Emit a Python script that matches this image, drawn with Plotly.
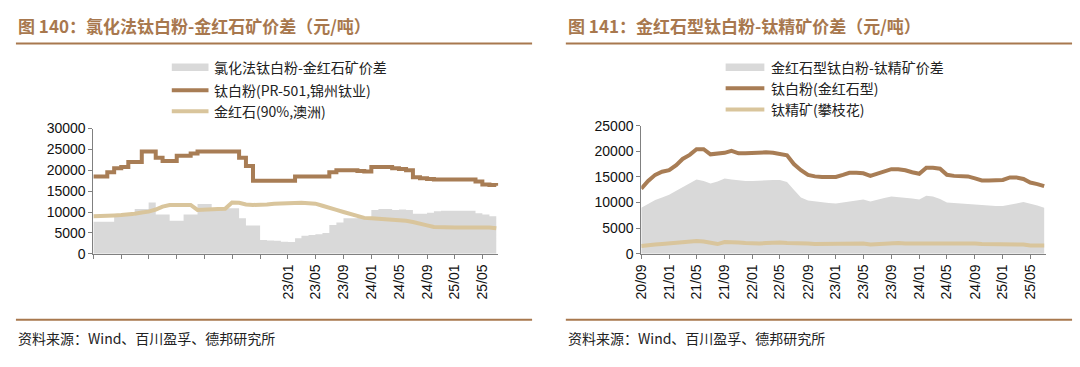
import pandas as pd
import plotly.graph_objects as go

W, H = 1080, 367

# ---- data (monthly, 2020-09 .. 2025-07), values in 元/吨 ----
months = [d.strftime("%Y-%m-%d") for d in pd.date_range("2020-09-01", periods=59, freq="MS")]

# Left chart: 氯化法钛白粉-金红石矿价差
left_tio2 = [18500, 18500, 19500, 20500, 20800, 22000, 22000, 24500, 24500, 23000,
             22200, 22200, 23500, 23500, 24000, 24500, 24500, 24500, 24500, 24500,
             24500, 23000, 21000, 17500, 17500, 17500, 17500, 17500, 17500, 18500,
             18500, 18500, 18500, 18500, 19500, 20000, 20000, 20000, 19800, 19700,
             20800, 20800, 20800, 20500, 20300, 20000, 18300, 18100, 17900, 17800,
             17800, 17800, 17800, 17800, 17800, 17300, 16600, 16500, 16300]
left_rutile = [9000, 9000, 9100, 9200, 9300, 9400, 9600, 9900, 10100, 10600,
               11300, 11700, 11700, 11700, 11700, 10500, 10500, 10600, 10700, 10800,
               12300, 12200, 11800, 11700, 11700, 11800, 12000, 12100, 12100, 12200,
               12200, 12100, 12000, 11500, 10900, 10500, 10000, 9500, 8900, 8600,
               8500, 8400, 8400, 8300, 8100, 7900, 7600, 7300, 6800, 6400,
               6300, 6300, 6300, 6300, 6300, 6400, 6500, 6300, 6100]
left_spread = [7700, 7700, 7700, 9200, 9200, 9200, 10700, 10700, 12300, 9400,
               9400, 7900, 7900, 9400, 9400, 11900, 11900, 10900, 10900, 10900,
               10900, 8500, 6800, 6800, 3300, 3200, 3100, 2900, 2800, 3700,
               4300, 4500, 4700, 5000, 6900, 7500, 8500, 8500, 8600, 8800,
               10500, 10700, 10700, 10500, 10600, 10500, 9600, 9600, 9800, 10200,
               10300, 10300, 10300, 10300, 10300, 9700, 9400, 9000, 9000]

# Right chart: 金红石型钛白粉-钛精矿价差
right_tio2 = [12700, 14200, 15400, 16000, 16300, 17300, 18500, 19300, 20400, 20400,
              19400, 19500, 19700, 20100, 19600, 19600, 19700, 19800, 19800, 19700,
              19500, 19200, 17500, 16300, 15400, 15100, 15000, 15000, 15000, 15400,
              15800, 15800, 15700, 15200, 15600, 15900, 16500, 16500, 16300, 15900,
              15600, 16800, 16800, 16600, 15400, 15200, 15200, 15100, 14700, 14300,
              14300, 14300, 14400, 14900, 14900, 14600, 13900, 13600, 13200]
right_ilmenite = [1500, 1700, 1800, 1900, 2000, 2100, 2200, 2350, 2500, 2400,
                  2200, 1900, 2300, 2300, 2200, 2100, 2000, 2000, 2100, 2200,
                  2200, 2100, 2100, 2000, 2000, 1900, 1900, 1900, 1900, 2000,
                  2000, 2000, 2000, 1800, 1900, 2000, 2100, 2100, 2000, 2000,
                  2100, 2100, 2100, 2100, 2000, 2000, 2000, 2000, 2000, 1900,
                  1900, 1900, 1900, 1900, 1900, 1800, 1600, 1600, 1600]
right_spread = [9000, 9800, 10500, 11000, 11500, 12300, 13000, 13800, 14500, 14200,
                13700, 14100, 14700, 14500, 14300, 14200, 14200, 14300, 14300, 14400,
                14400, 14000, 12500, 11000, 10400, 10200, 10000, 9900, 9800, 10000,
                10200, 10400, 10600, 10200, 10600, 10900, 11200, 11100, 11000, 10800,
                10600, 11300, 11200, 10700, 10000, 9900, 9800, 9700, 9500, 9400,
                9300, 9300, 9300, 9500, 9800, 10100, 9800, 9400, 9000]

tick_vals = ["2020-09-01", "2021-01-01", "2021-05-01", "2021-09-01", "2022-01-01",
             "2022-05-01", "2022-09-01", "2023-01-01", "2023-05-01", "2023-09-01",
             "2024-01-01", "2024-05-01", "2024-09-01", "2025-01-01", "2025-05-01"]
tick_text = ["20/09", "21/01", "21/05", "21/09", "22/01", "22/05", "22/09", "23/01",
             "23/05", "23/09", "24/01", "24/05", "24/09", "25/01", "25/05"]
left_tick_text = [t if i >= 7 else "" for i, t in enumerate(tick_text)]

titles = ["图 140：氯化法钛白粉-金红石矿价差（元/吨）", "图 141：金红石型钛白粉-钛精矿价差（元/吨）"]
left_names = ["氯化法钛白粉-金红石矿价差", "钛白粉(PR-501,锦州钛业)", "金红石(90%,澳洲)"]
right_names = ["金红石型钛白粉-钛精矿价差", "钛白粉(金红石型)", "钛精矿(攀枝花)"]
source = "资料来源：Wind、百川盈孚、德邦研究所"

# ---- style ----
C_BROWN = "#A87D55"
C_TAN = "#D9C59C"
C_GRAY = "#D9D9D9"
C_TITLE = "#A8784E"
FONT = "Liberation Sans, Arial, Noto Sans CJK SC"
CJK = "Noto Sans CJK SC"

def px(x):
    return x / W

def py(y):
    return 1 - y / H

fig = go.Figure()

# left chart traces
fig.add_trace(go.Scatter(x=months, y=left_spread, fill="tozeroy", mode="lines",
                         line=dict(width=0, shape="hv"), fillcolor=C_GRAY,
                         xaxis="x", yaxis="y", showlegend=False))
fig.add_trace(go.Scatter(x=months, y=left_rutile, mode="lines",
                         line=dict(color=C_TAN, width=4), xaxis="x", yaxis="y", showlegend=False))
fig.add_trace(go.Scatter(x=months, y=left_tio2, mode="lines",
                         line=dict(color=C_BROWN, width=4, shape="hv"), xaxis="x", yaxis="y",
                         showlegend=False))

# right chart traces
fig.add_trace(go.Scatter(x=months, y=right_spread, fill="tozeroy", mode="lines",
                         line=dict(width=0), fillcolor=C_GRAY,
                         xaxis="x2", yaxis="y2", showlegend=False))
fig.add_trace(go.Scatter(x=months, y=right_ilmenite, mode="lines",
                         line=dict(color=C_TAN, width=4), xaxis="x2", yaxis="y2", showlegend=False))
fig.add_trace(go.Scatter(x=months, y=right_tio2, mode="lines",
                         line=dict(color=C_BROWN, width=4), xaxis="x2", yaxis="y2", showlegend=False))

xaxis_common = dict(type="date", range=["2020-09-01", "2025-07-10"], tickvals=tick_vals,
                    tickangle=-90, showline=True, linecolor="#808080", linewidth=1,
                    ticks="outside", ticklen=4, tickcolor="#808080", showgrid=False,
                    zeroline=False, tickfont=dict(family=FONT, size=14, color="#111"))
yaxis_common = dict(showline=True, linecolor="#808080", linewidth=1, ticks="outside",
                    ticklen=4, tickcolor="#808080", showgrid=False, zeroline=False,
                    tickformat="d", tickfont=dict(family=FONT, size=14, color="#111"))

fig.update_layout(
    width=W, height=H, margin=dict(l=0, r=0, t=0, b=0),
    paper_bgcolor="white", plot_bgcolor="white", hovermode=False,
    xaxis=dict(domain=[px(86), px(494)], ticktext=left_tick_text, anchor="y", **xaxis_common),
    yaxis=dict(domain=[py(257), py(126)], range=[0, 30000], dtick=5000, anchor="x",
               **yaxis_common),
    xaxis2=dict(domain=[px(638), px(1046)], ticktext=tick_text, anchor="y2", **xaxis_common),
    yaxis2=dict(domain=[py(257), py(123)], range=[0, 25000], dtick=5000, anchor="x2",
                **yaxis_common),
)

shapes = []
annotations = []
for i, (x0, x1) in enumerate([(8, 528), (562, 1072)]):
    # title
    annotations.append(dict(x=px(x0), y=py(18), xref="paper", yref="paper", xanchor="left",
                            yanchor="middle", showarrow=False, text="<b>" + titles[i] + "</b>",
                            font=dict(family=CJK, size=17, color=C_TITLE)))
    shapes.append(dict(type="line", xref="paper", yref="paper", x0=px(x0), x1=px(x1),
                       y0=py(37), y1=py(37), line=dict(color=C_TITLE, width=2)))
    shapes.append(dict(type="line", xref="paper", yref="paper", x0=px(x0), x1=px(x1),
                       y0=py(326), y1=py(326), line=dict(color=C_TITLE, width=2)))
    annotations.append(dict(x=px(x0), y=py(345), xref="paper", yref="paper", xanchor="left",
                            yanchor="middle", showarrow=False, text=source,
                            font=dict(family=CJK, size=14, color="#222")))

# legends
legend_specs = [
    (165, 202, 206, [62, 86, 108], left_names),
    (723, 762, 767, [62, 84, 106], right_names),
]
for sx0, sx1, tx, ys, names in legend_specs:
    shapes.append(dict(type="rect", xref="paper", yref="paper", x0=px(sx0), x1=px(sx1),
                       y0=py(ys[0] + 4), y1=py(ys[0] - 4), fillcolor=C_GRAY, line=dict(width=0)))
    shapes.append(dict(type="line", xref="paper", yref="paper", x0=px(sx0), x1=px(sx1),
                       y0=py(ys[1]), y1=py(ys[1]), line=dict(color=C_BROWN, width=4)))
    shapes.append(dict(type="line", xref="paper", yref="paper", x0=px(sx0), x1=px(sx1),
                       y0=py(ys[2]), y1=py(ys[2]), line=dict(color=C_TAN, width=4)))
    for yy, name in zip(ys, names):
        annotations.append(dict(x=px(tx), y=py(yy), xref="paper", yref="paper",
                                xanchor="left", yanchor="middle", showarrow=False, text=name,
                                font=dict(family=CJK, size=14, color="#222")))

fig.update_layout(shapes=shapes, annotations=annotations)
fig.write_html(
    "out.html",
    config={"displayModeBar": False, "staticPlot": True},
    post_script=("document.documentElement.style.margin='0';"
                 "document.documentElement.style.overflow='hidden';"
                 "document.body.style.margin='0';document.body.style.padding='0';"
                 "document.body.style.overflow='hidden';"),
)
